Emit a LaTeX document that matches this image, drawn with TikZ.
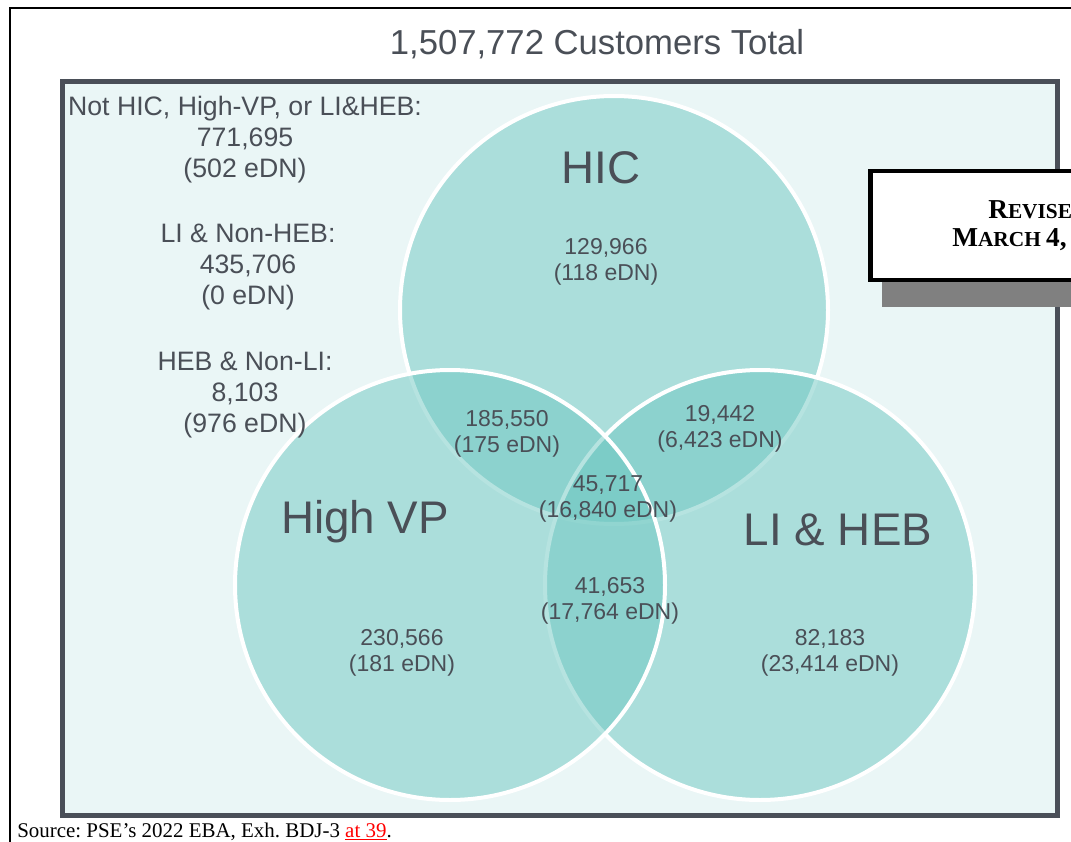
\documentclass[tikz,border=0pt]{standalone}
\usepackage{fontspec}
\setmainfont{Liberation Sans}
\newfontfamily\serifft{Liberation Serif}
\definecolor{txt}{RGB}{74,79,87}
\definecolor{boxfill}{RGB}{234,246,246}
\definecolor{boxline}{RGB}{74,79,88}
\definecolor{venn}{RGB}{110,200,194}
\definecolor{shadowgray}{RGB}{128,128,128}
\frenchspacing
\begin{document}
\begin{tikzpicture}[x=0.75pt,y=-0.75pt,
  vennc/.style={circle, inner sep=0pt, fill=venn, fill opacity=0.5, draw=white, draw opacity=1, line width=3pt},
  num/.style={font=\fontsize{17.25}{19.5}\selectfont, text=txt, align=center, inner sep=0pt},
  lbl/.style={font=\fontsize{34.3}{40}\selectfont, text=txt, inner sep=0pt},
  side/.style={font=\fontsize{20}{23.25}\selectfont, text=txt, align=center, inner sep=0pt},
  revtxt/.style={font=\serifft\bfseries, anchor=base west, inner sep=0pt, text=black}]
\useasboundingbox (0,0) rectangle (1071,842);
\clip (0,0) rectangle (1071,842);
\fill[white] (0,0) rectangle (1071,842);
% outer frame
\draw[black, line width=1pt] (10,842) -- (10,8) -- (1071,8);
% title
\node[font=\fontsize{26}{30}\selectfont, text=txt] (title) at (597,44) {1,507,772 Customers Total};
% main box
\node[rectangle, draw=boxline, fill=boxfill, line width=3.75pt, inner sep=0pt,
      minimum width=746.25pt, minimum height=549.75pt] (mainbox) at (559.5,448.5) {};
% circles
\node[vennc, minimum size=321pt] (hic) at (614,310) {};
\node[vennc, minimum size=322.5pt] (li) at (760,585) {};
\node[vennc, minimum size=322.5pt] (vp) at (450,585) {};
% revised box
\fill[shadowgray] (882,180) rectangle (1090,307);
\draw[black, fill=white, line width=3.5pt] (870.5,171) rectangle (1090,280);
\node[revtxt] (rev1) at (988,218) {\fontsize{20.5}{24}\selectfont R\fontsize{16}{24}\selectfont EVISE};
\node[revtxt] (rev2) at (952,246) {\fontsize{20.5}{24}\selectfont M\fontsize{16}{24}\selectfont ARCH \fontsize{20.5}{24}\selectfont 4,};
% side texts
\node[side] (s1) at (245,140) {Not HIC, High-VP, or LI\&HEB:\\771,695\\(502 eDN)};
\node[side] (s2) at (248,267) {LI \& Non-HEB:\\435,706\\(0 eDN)};
\node[side] (s3) at (245,395) {HEB \& Non-LI:\\8,103\\(976 eDN)};
% labels
\node[lbl] (lhic) at (601,168) {HIC};
\node[lbl] (lvp) at (365,522) {High VP};
\node[lbl] (lli) at (838,530) {LI \& HEB};
% numbers
\node[num] (n1) at (606,262) {129,966\\(118 eDN)};
\node[num] (n2) at (507,434) {185,550\\(175 eDN)};
\node[num] (n3) at (720,429) {19,442\\(6,423 eDN)};
\node[num] (n4) at (608,499) {45,717\\(16,840 eDN)};
\node[num] (n5) at (610,601) {41,653\\(17,764 eDN)};
\node[num] (n6) at (402,653) {230,566\\(181 eDN)};
\node[num] (n7) at (830,653) {82,183\\(23,414 eDN)};
% source
\node[font=\serifft\fontsize{15.7}{18}\selectfont, anchor=base west, inner sep=0pt] (src) at (17,837)
  {Source: PSE’s 2022 EBA, Exh. BDJ-3 \textcolor{red}{\underline{at 39}}.};
\end{tikzpicture}
\end{document}
